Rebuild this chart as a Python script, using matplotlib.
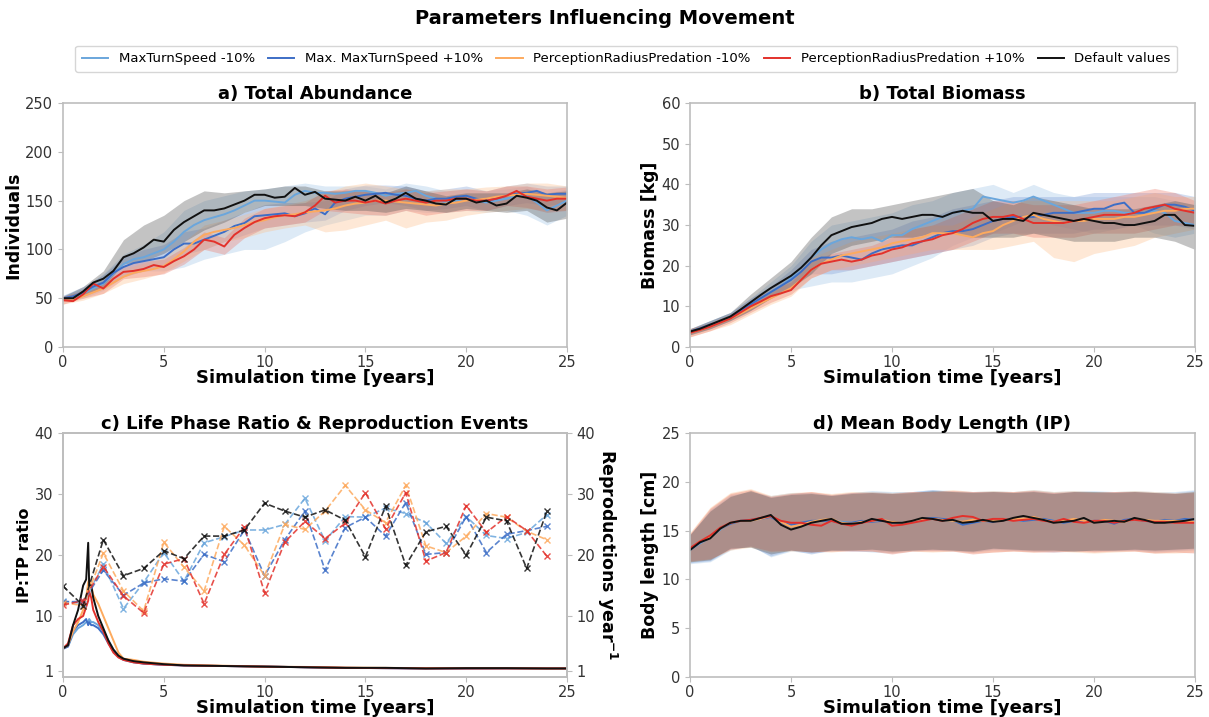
import numpy as np
import matplotlib
matplotlib.use("Agg")
from matplotlib import pyplot as plt

# time axes
years = np.arange(0, 25.01, 0.5)      # mean lines, half-year steps
band_years = np.arange(0, 26)         # spread bands, yearly
repro_years = np.arange(0, 25)        # reproduction events per year
ratio_t = [0, 0.25, 0.5, 0.75, 1.0, 1.15, 1.25, 1.3, 1.4, 1.5, 1.75, 2.0, 2.25, 2.5, 2.75,
           3.0, 3.5, 4, 5, 6, 8, 10, 12, 14, 16, 18, 20, 22, 24, 25]

labels = ["MaxTurnSpeed -10%", "Max. MaxTurnSpeed +10%", "PerceptionRadiusPredation -10%",
          "PerceptionRadiusPredation +10%", "Default values"]
colors = ["#6aa6dc", "#3d6ec6", "#fdaa5e", "#e3312b", "#111111"]
band_colors = ["#9ec3e6", "#7f9fd8", "#fdbf8a", "#ec7a6a", "#555555"]

# ---- a) total abundance
abund_tsm = [50, 51, 55, 60, 65, 75, 85, 90, 92, 96,
             100, 108, 118, 125, 130, 133, 136, 140, 145, 150,
             150, 149, 148, 156, 160, 158, 158, 157, 158, 160,
             160, 158, 155, 157, 158, 160, 155, 152, 148, 150,
             152, 150, 148, 150, 152, 155, 155, 148, 140, 145,
             150]
abund_tsp = [50, 52, 56, 62, 66, 76, 82, 86, 88, 90,
             92, 100, 106, 106, 110, 114, 118, 124, 127, 134,
             135, 136, 137, 134, 137, 142, 136, 148, 152, 154,
             156, 157, 158, 156, 155, 152, 150, 152, 152, 154,
             155, 152, 150, 152, 155, 157, 158, 160, 156, 157,
             157]
abund_prm = [48, 48, 52, 56, 60, 66, 72, 76, 78, 80,
             83, 90, 98, 108, 115, 118, 120, 122, 125, 128,
             130, 133, 135, 136, 138, 139, 140, 142, 145, 147,
             148, 150, 150, 149, 148, 147, 146, 145, 147, 148,
             150, 151, 152, 154, 155, 156, 157, 156, 155, 154,
             153]
abund_prp = [48, 47, 54, 65, 60, 70, 77, 78, 80, 84,
             82, 88, 93, 100, 110, 108, 103, 115, 122, 128,
             132, 134, 135, 134, 138, 145, 155, 148, 150, 150,
             148, 150, 147, 150, 152, 150, 148, 150, 150, 152,
             152, 150, 150, 152, 155, 160, 154, 152, 150, 152,
             152]
abund_dft = [50, 50, 57, 66, 70, 78, 92, 96, 102, 110,
             108, 120, 128, 134, 140, 140, 142, 146, 150, 156,
             156, 153, 154, 163, 156, 159, 152, 151, 150, 154,
             150, 155, 148, 152, 158, 152, 150, 147, 146, 152,
             152, 148, 150, 145, 147, 155, 153, 150, 143, 140,
             148]
abund_tsm_lo = [47, 50, 58, 72, 78, 78, 82, 90, 95, 100, 100, 108, 118, 125, 130, 135, 135, 140, 138, 138, 140, 138, 140, 135, 125, 135]
abund_tsm_hi = [53, 60, 75, 95, 105, 118, 140, 150, 155, 160, 162, 165, 168, 165, 165, 165, 162, 168, 165, 160, 162, 160, 162, 165, 158, 162]
abund_tsp_lo = [47, 52, 60, 72, 78, 85, 95, 100, 108, 115, 122, 125, 128, 130, 140, 145, 148, 145, 140, 142, 145, 140, 145, 148, 145, 148]
abund_tsp_hi = [53, 62, 74, 92, 100, 105, 118, 122, 130, 138, 146, 148, 148, 150, 162, 166, 166, 165, 160, 162, 165, 160, 165, 168, 165, 165]
abund_prm_lo = [44, 48, 55, 65, 70, 76, 88, 100, 108, 112, 118, 122, 125, 118, 120, 125, 130, 122, 128, 130, 135, 138, 140, 142, 140, 140]
abund_prm_hi = [52, 56, 66, 80, 86, 92, 108, 125, 130, 136, 142, 146, 150, 158, 165, 168, 165, 162, 160, 162, 162, 164, 165, 168, 168, 165]
abund_prp_lo = [44, 50, 55, 70, 72, 75, 85, 100, 95, 112, 122, 125, 128, 140, 138, 136, 135, 140, 135, 138, 140, 140, 145, 143, 138, 140]
abund_prp_hi = [52, 58, 66, 84, 88, 90, 102, 118, 112, 132, 142, 145, 148, 160, 162, 160, 158, 162, 158, 160, 162, 160, 165, 165, 162, 164]
abund_dft_lo = [48, 52, 62, 85, 88, 96, 108, 120, 128, 138, 145, 145, 145, 142, 140, 140, 138, 142, 140, 138, 142, 140, 138, 140, 128, 132]
abund_dft_hi = [52, 62, 78, 110, 125, 135, 150, 160, 158, 160, 162, 165, 165, 160, 160, 160, 158, 165, 160, 155, 158, 158, 158, 162, 158, 160]

# ---- b) total biomass
bio_tsm = [3.8, 4.6, 5.5, 6.4, 7.5, 9.0, 10.5, 12.0, 13.5, 15.0,
           17.0, 19.5, 22.0, 24.0, 25.5, 26.5, 27.0, 26.5, 27.0, 26.0,
           27.5, 27.5, 29.0, 30.0, 31.0, 32.0, 33.0, 33.5, 34.0, 37.0,
           36.5, 36.0, 35.5, 36.0, 37.0, 36.0, 35.0, 34.0, 33.0, 33.0,
           33.0, 33.5, 33.5, 33.0, 33.0, 33.0, 33.5, 33.0, 31.0, 30.5,
           30.0]
bio_tsp = [3.8, 4.6, 5.5, 6.3, 7.3, 9.0, 10.5, 12.0, 13.5, 15.0,
           16.5, 18.5, 21.0, 22.0, 22.0, 22.5, 22.0, 21.5, 23.0, 24.0,
           24.5, 25.0, 25.0, 26.0, 27.0, 28.0, 28.5, 28.5, 29.0, 30.0,
           31.0, 31.5, 32.0, 32.0, 32.0, 32.5, 33.0, 33.0, 33.0, 33.5,
           34.0, 34.0, 35.0, 35.5, 33.0, 33.0, 34.0, 35.0, 35.0, 34.5,
           33.5]
bio_prm = [3.5, 4.2, 5.0, 6.0, 7.0, 8.2, 9.5, 10.8, 12.0, 13.2,
           14.5, 16.5, 19.0, 20.5, 21.5, 22.5, 23.0, 23.5, 24.0, 24.5,
           25.5, 26.0, 26.5, 27.0, 28.0, 28.0, 28.0, 27.5, 27.0, 28.0,
           28.5, 30.0, 31.0, 32.0, 32.5, 31.5, 31.0, 30.5, 31.0, 31.0,
           31.5, 31.5, 31.5, 32.0, 32.0, 32.5, 33.0, 33.5, 33.5, 34.0,
           34.0]
bio_prp = [3.5, 4.2, 5.0, 6.0, 7.0, 8.5, 10.0, 11.2, 12.5, 13.2,
           14.0, 16.5, 19.0, 20.5, 21.0, 21.5, 21.0, 21.5, 22.5, 23.0,
           24.0, 24.5, 25.5, 26.0, 26.5, 27.5, 28.0, 29.0, 30.5, 31.5,
           32.0, 32.0, 32.5, 31.5, 30.5, 30.5, 30.5, 30.5, 31.0, 31.5,
           32.0, 32.5, 32.5, 32.5, 33.0, 34.0, 34.5, 35.0, 34.0, 33.5,
           33.0]
bio_dft = [3.8, 4.5, 5.5, 6.5, 7.5, 9.2, 11.0, 12.8, 14.5, 16.0,
           17.5, 19.5, 22.0, 25.0, 27.5, 28.5, 29.5, 30.0, 30.5, 31.5,
           32.0, 31.5, 32.0, 32.5, 32.5, 32.0, 33.0, 33.5, 33.0, 33.0,
           31.0, 31.5, 31.5, 31.0, 33.0, 32.5, 32.0, 31.5, 31.0, 31.5,
           31.0, 30.5, 30.5, 30.0, 30.0, 30.5, 31.0, 32.5, 32.5, 30.0,
           29.8]
bio_tsm_lo = [3, 4.5, 6.5, 9, 12, 14, 15, 16, 16, 17, 18, 20, 22, 25, 27, 28, 30, 32, 30, 29, 28, 29, 30, 28, 27, 28]
bio_tsm_hi = [4.5, 6.5, 8.5, 12, 16, 20, 26, 30, 31, 32, 33, 35, 36, 38, 39, 40, 38, 40, 38, 37, 37, 37, 37, 37, 36, 35]
bio_tsp_lo = [3, 4.5, 6.5, 9, 12, 15, 18, 18, 19, 20, 21, 22, 23, 24, 25, 27, 28, 28, 28, 28, 29, 29, 30, 30, 30, 29]
bio_tsp_hi = [4.5, 6.5, 8.5, 12, 15, 19, 24, 26, 27, 28, 29, 31, 32, 34, 35, 36, 37, 37, 37, 37, 38, 38, 38, 38, 38, 37]
bio_prm_lo = [2.5, 4, 5.5, 8, 10.5, 12.5, 17, 19, 20, 21, 22, 23, 24, 24, 24, 24, 25, 26, 22, 21, 23, 24, 25, 27, 28, 29]
bio_prm_hi = [4.5, 6, 8, 11, 14, 16.5, 22, 24, 26, 27, 28, 29, 30, 30, 32, 34, 36, 36, 36, 36, 36, 36, 37, 38, 37, 37]
bio_prp_lo = [2.5, 4, 6, 8.5, 11, 13, 17, 19, 19, 20, 21, 22, 23, 24, 26, 28, 28, 27, 27, 27, 28, 28, 28, 29, 30, 30]
bio_prp_hi = [4.5, 6, 8, 11.5, 14, 16, 21, 23, 24, 25, 27, 29, 30, 32, 34, 36, 36, 35, 35, 35, 36, 37, 38, 39, 38, 36]
bio_dft_lo = [3, 4.5, 6.5, 9, 12, 14.5, 18, 23, 25, 26, 27, 27, 28, 28, 27, 27, 27, 28, 27, 26, 26, 26, 27, 27, 26, 24]
bio_dft_hi = [4.5, 6.5, 8.5, 13, 17, 21, 27, 32, 34, 34, 35, 36, 37, 38, 39, 36, 35, 37, 36, 35, 34, 34, 34, 35, 36, 35]

# ---- c) IP:TP ratio and reproduction events
ratio_tsm = [4.7, 5.0, 7, 8, 8.5, 9, 9, 9.5, 9, 9, 8.5, 7.5, 6, 4.5, 3.5, 3.0, 2.5, 2.2, 2.0, 1.9, 1.8, 1.75, 1.6, 1.5, 1.45, 1.4, 1.4, 1.45, 1.4, 1.4]
ratio_tsp = [4.6, 5.0, 7.5, 8.5, 9, 9.5, 8.5, 9, 8.5, 8.5, 8, 7, 5.5, 4.2, 3.3, 2.8, 2.4, 2.2, 2.0, 1.9, 1.8, 1.7, 1.6, 1.5, 1.45, 1.4, 1.4, 1.4, 1.4, 1.4]
ratio_prm = [4.7, 5.2, 7.5, 9, 11, 13, 15.5, 16, 15, 13.5, 12, 10, 8, 6, 4, 3.0, 2.8, 2.5, 2.2, 2.0, 1.85, 1.7, 1.65, 1.55, 1.5, 1.45, 1.45, 1.45, 1.4, 1.4]
ratio_prp = [4.7, 5.5, 8.5, 9.5, 10, 11.5, 12.5, 14, 13, 11, 9, 7.5, 5.5, 4, 3.2, 2.8, 2.4, 2.2, 2.0, 1.9, 1.8, 1.7, 1.6, 1.5, 1.45, 1.4, 1.4, 1.4, 1.4, 1.4]
ratio_dft = [4.7, 5.2, 8.5, 11, 15, 16, 22, 15, 15, 13, 10, 8, 6, 4.5, 3.5, 3.0, 2.6, 2.4, 2.1, 1.9, 1.8, 1.7, 1.6, 1.5, 1.5, 1.4, 1.45, 1.45, 1.4, 1.4]

repro_tsm = [12.5, 12.0, 18.5, 11.2, 15.5, 20.4, 15.7, 22.0, 23.0, 24.1, 24.1, 25.0, 29.3, 22.3, 26.3, 26.2, 27.7, 26.8, 25.3, 21.9, 26.3, 23.2, 22.7, 23.7, 26.6]
repro_tsp = [12.3, 12.4, 17.5, 13.4, 15.4, 16.1, 15.7, 20.1, 18.9, 24.1, 16.6, 22.5, 27.2, 17.5, 24.5, 26.2, 23.1, 28.6, 20.1, 20.4, 26.3, 20.4, 23.4, 24.0, 24.7]
repro_prm = [12.2, 11.7, 20.3, 14.1, 10.8, 22.1, 18.0, 14.1, 24.7, 21.6, 16.6, 25.0, 24.2, 27.2, 31.4, 27.4, 25.3, 31.4, 21.5, 20.4, 23.1, 26.8, 26.2, 23.9, 22.5]
repro_prp = [11.8, 12.5, 18.1, 13.3, 10.5, 18.5, 19.4, 12.0, 20.1, 24.6, 13.8, 22.1, 25.5, 22.7, 25.2, 30.2, 24.3, 30.2, 19.0, 20.4, 28.1, 23.7, 26.3, 24.0, 19.8]
repro_dft = [14.9, 11.7, 22.5, 16.6, 17.8, 20.7, 19.4, 23.1, 23.1, 24.1, 28.5, 27.2, 26.2, 27.4, 25.7, 19.7, 28.0, 18.3, 23.8, 24.7, 20.0, 26.2, 25.6, 17.8, 27.2]

# ---- d) mean body length (IP)
len_tsm = [13.0, 13.7, 14.3, 15.1, 15.8, 16.0, 16.0, 16.2, 16.5, 15.9,
           15.5, 15.7, 15.9, 16.1, 16.1, 15.9, 15.8, 15.9, 16.0, 16.1,
           15.8, 15.8, 15.9, 16.1, 16.2, 16.1, 16.0, 15.8, 15.9, 16.0,
           16.0, 16.1, 16.1, 16.0, 16.2, 16.1, 16.0, 15.9, 16.0, 16.0,
           15.9, 16.0, 15.9, 16.0, 16.1, 16.1, 15.9, 16.0, 16.0, 16.1,
           16.0]
len_tsp = [13.1, 13.8, 14.3, 15.2, 15.7, 16.0, 16.1, 16.2, 16.4, 15.8,
           15.6, 15.8, 16.0, 16.0, 16.0, 15.8, 15.8, 16.0, 15.9, 16.0,
           15.9, 15.8, 16.0, 16.2, 16.3, 16.2, 16.1, 15.6, 15.8, 16.0,
           15.9, 16.1, 16.2, 16.0, 16.1, 16.2, 16.0, 15.8, 16.0, 15.9,
           16.0, 16.0, 15.7, 16.1, 16.2, 16.0, 15.9, 16.1, 16.0, 16.2,
           16.1]
len_prm = [13.1, 13.9, 14.4, 15.2, 15.8, 16.0, 16.0, 16.2, 16.5, 15.9,
           15.4, 15.6, 15.9, 16.1, 16.2, 15.8, 15.7, 15.9, 16.0, 16.1,
           15.9, 15.8, 16.0, 16.2, 16.2, 16.1, 16.0, 15.9, 16.1, 16.0,
           16.0, 16.1, 16.2, 16.2, 16.4, 16.1, 15.9, 16.0, 16.2, 16.0,
           15.9, 16.1, 16.0, 15.9, 16.2, 16.1, 16.0, 16.0, 16.0, 16.0,
           15.9]
len_prp = [13.2, 13.9, 14.5, 15.3, 15.8, 16.0, 16.1, 16.3, 16.5, 16.0,
           15.8, 15.8, 15.6, 15.5, 16.0, 15.7, 15.5, 15.8, 16.0, 16.2,
           15.5, 15.6, 15.8, 16.0, 16.2, 16.0, 16.3, 16.5, 16.4, 16.0,
           16.2, 16.2, 16.0, 16.1, 16.2, 16.0, 15.9, 16.2, 15.9, 15.8,
           16.0, 16.0, 15.8, 16.0, 16.1, 16.0, 15.9, 15.9, 15.8, 15.8,
           15.8]
len_dft = [13.0, 13.8, 14.2, 15.2, 15.8, 16.0, 16.0, 16.3, 16.6, 15.6,
           15.1, 15.4, 15.8, 16.0, 16.2, 15.7, 15.7, 15.8, 16.2, 16.0,
           15.8, 15.8, 16.0, 16.3, 16.2, 16.0, 16.1, 15.8, 15.9, 16.1,
           15.9, 16.0, 16.3, 16.5, 16.3, 16.1, 15.8, 15.9, 16.0, 16.3,
           15.8, 15.9, 16.0, 15.9, 16.3, 16.1, 15.8, 15.8, 15.9, 16.0,
           16.2]
len_tsm_lo = [11.6, 11.8, 13.0, 13.5, 12.3, 12.9, 12.7, 12.9, 13.0, 12.8, 12.7, 12.9, 13.0, 12.9, 12.8, 13.0, 13.0, 12.9, 12.8, 12.9, 13.0, 12.9, 13.0, 12.8, 12.9, 13.0]
len_tsm_hi = [14.5, 17.2, 18.7, 19.0, 18.6, 18.9, 18.9, 18.7, 18.9, 19.1, 19.0, 19.0, 19.2, 19.1, 19.0, 19.1, 19.0, 19.2, 19.0, 19.1, 19.1, 19.0, 19.1, 19.0, 19.0, 19.2]
len_tsp_lo = [11.7, 11.9, 13.1, 13.4, 12.4, 13.0, 12.6, 13.0, 12.9, 12.9, 12.8, 13.0, 13.0, 13.0, 12.8, 13.1, 13.0, 12.9, 12.9, 13.0, 12.9, 13.0, 13.0, 12.9, 13.0, 13.1]
len_tsp_hi = [14.6, 17.1, 18.6, 19.0, 18.5, 18.8, 18.9, 18.6, 18.9, 19.0, 18.9, 19.0, 19.2, 19.0, 19.0, 19.0, 18.9, 19.1, 18.9, 19.0, 19.0, 19.0, 19.0, 18.9, 18.9, 19.1]
len_prm_lo = [11.8, 12.1, 13.0, 13.3, 12.8, 12.9, 12.9, 12.8, 13.0, 12.9, 12.7, 12.9, 12.8, 12.9, 12.7, 12.8, 12.9, 12.8, 12.9, 12.8, 12.7, 12.8, 12.9, 12.7, 12.7, 12.8]
len_prm_hi = [14.8, 17.4, 18.9, 19.3, 18.6, 18.9, 19.0, 18.8, 19.0, 19.0, 18.9, 19.0, 19.0, 19.2, 19.0, 19.1, 19.0, 19.2, 19.0, 19.1, 19.0, 19.0, 19.1, 19.0, 18.9, 19.0]
len_prp_lo = [11.9, 12.1, 13.1, 13.4, 12.9, 13.0, 12.8, 12.9, 12.9, 12.9, 12.6, 12.9, 12.9, 12.9, 12.6, 12.8, 12.9, 12.8, 12.8, 12.9, 12.8, 12.9, 12.9, 12.7, 12.8, 12.7]
len_prp_hi = [14.7, 17.3, 18.8, 19.2, 18.5, 18.8, 19.0, 18.7, 18.9, 18.9, 18.8, 19.0, 19.0, 19.1, 19.0, 19.0, 19.0, 19.1, 18.9, 19.0, 18.9, 19.0, 19.0, 18.9, 18.8, 18.9]
len_dft_lo = [11.8, 12.0, 13.2, 13.3, 12.6, 13.0, 12.8, 13.0, 13.0, 13.1, 12.9, 13.0, 13.1, 13.0, 12.9, 13.2, 13.1, 13.0, 13.0, 12.9, 13.0, 13.0, 13.1, 13.0, 13.1, 13.2]
len_dft_hi = [14.6, 17.0, 18.5, 19.1, 18.4, 18.7, 18.8, 18.6, 18.8, 18.9, 18.8, 18.9, 19.1, 19.0, 18.9, 19.0, 18.9, 19.0, 18.8, 19.0, 19.0, 18.9, 19.0, 18.9, 18.8, 19.0]


plt.rcParams['font.family'] = ['DejaVu Sans']
plt.rcParams['axes.edgecolor'] = '#bdbdbd'
plt.rcParams['axes.linewidth'] = 1.2
plt.rcParams['xtick.color'] = '#bdbdbd'
plt.rcParams['ytick.color'] = '#bdbdbd'
plt.rcParams['xtick.labelcolor'] = '#333333'
plt.rcParams['ytick.labelcolor'] = '#333333'
plt.rcParams['xtick.labelsize'] = 10.5
plt.rcParams['ytick.labelsize'] = 10.5
plt.rcParams['xtick.major.pad'] = 2.5

fig = plt.figure(figsize=(12.09, 7.17), dpi=100)
ax_a = fig.add_axes([0.0521, 0.516, 0.4169, 0.3403])
ax_b = fig.add_axes([0.5707, 0.516, 0.4177, 0.3403])
ax_c = fig.add_axes([0.0521, 0.0558, 0.4169, 0.3403])
ax_d = fig.add_axes([0.5707, 0.0558, 0.4177, 0.3403])

XLABEL = "Simulation time [years]"


def panel(ax, means, lows, highs, title, ylabel, ylim, yticks):
    for lo, hi, bc in zip(lows, highs, band_colors):
        ax.fill_between(band_years, lo, hi, color=bc, alpha=0.35, lw=0)
    handles = []
    for m, c, lab in zip(means, colors, labels):
        h, = ax.plot(years, m, color=c, lw=1.4, label=lab)
        handles.append(h)
    ax.set_xlim(0, 25)
    ax.set_ylim(*ylim)
    ax.set_yticks(yticks)
    ax.set_title(title, fontsize=13, fontweight='bold', pad=3)
    ax.set_ylabel(ylabel, fontsize=12.5, fontweight='bold', labelpad=2)
    ax.set_xlabel(XLABEL, fontsize=13, fontweight='bold', labelpad=-1)
    return handles


handles = panel(ax_a,
                [abund_tsm, abund_tsp, abund_prm, abund_prp, abund_dft],
                [abund_tsm_lo, abund_tsp_lo, abund_prm_lo, abund_prp_lo, abund_dft_lo],
                [abund_tsm_hi, abund_tsp_hi, abund_prm_hi, abund_prp_hi, abund_dft_hi],
                "a) Total Abundance", "Individuals", (0, 250), range(0, 251, 50))

panel(ax_b,
      [bio_tsm, bio_tsp, bio_prm, bio_prp, bio_dft],
      [bio_tsm_lo, bio_tsp_lo, bio_prm_lo, bio_prp_lo, bio_dft_lo],
      [bio_tsm_hi, bio_tsp_hi, bio_prm_hi, bio_prp_hi, bio_dft_hi],
      "b) Total Biomass", "Biomass [kg]", (0, 60), range(0, 61, 10))

panel(ax_d,
      [len_tsm, len_tsp, len_prm, len_prp, len_dft],
      [len_tsm_lo, len_tsp_lo, len_prm_lo, len_prp_lo, len_dft_lo],
      [len_tsm_hi, len_tsp_hi, len_prm_hi, len_prp_hi, len_dft_hi],
      "d) Mean Body Length (IP)", "Body length [cm]", (0, 25), range(0, 26, 5))

# panel c: ratio on the left axis, reproduction counts on a twin axis
ax_c2 = ax_c.twinx()
for r, c in zip([ratio_tsm, ratio_tsp, ratio_prm, ratio_prp, ratio_dft], colors):
    ax_c.plot(ratio_t, r, color=c, lw=1.4)
for rp, c in zip([repro_tsm, repro_tsp, repro_prm, repro_prp, repro_dft], colors):
    ax_c2.plot(repro_years, rp, color=c, ls='--', lw=1.2, marker='x', ms=5, alpha=0.85)
for ax in (ax_c, ax_c2):
    ax.set_ylim(0, 40)
    ax.set_yticks([1, 10, 20, 30, 40])
ax_c.set_xlim(0, 25)
ax_c.set_title("c) Life Phase Ratio & Reproduction Events", fontsize=13, fontweight='bold', pad=3)
ax_c.set_ylabel("IP:TP ratio", fontsize=11.5, fontweight='bold', labelpad=2)
ax_c.set_xlabel(XLABEL, fontsize=13, fontweight='bold', labelpad=-1)
ax_c2.set_ylabel("Reproductions year$^{\\mathbf{-1}}$", fontsize=12.5, fontweight='bold',
                 rotation=270, labelpad=17)

fig.suptitle("Parameters Influencing Movement", fontsize=14, fontweight='bold', y=0.987)
fig.legend(handles=handles, labels=labels, loc='center', bbox_to_anchor=(0.518, 0.918),
           ncol=5, fontsize=9.5, frameon=True, edgecolor='#cccccc', handlelength=2,
           columnspacing=1.0, borderpad=0.5)

fig.savefig("out.png", dpi=100)
